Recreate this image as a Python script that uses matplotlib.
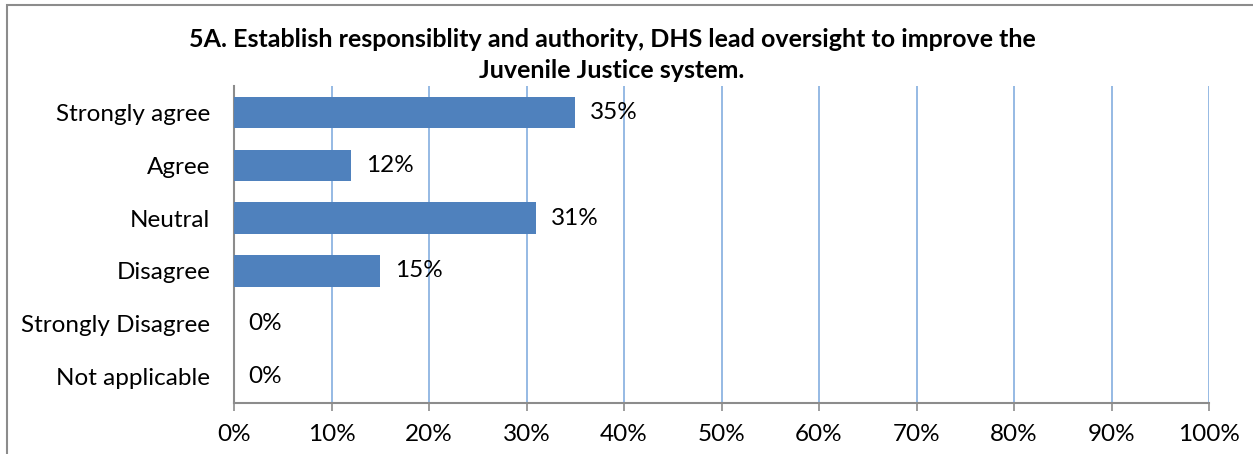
import matplotlib
matplotlib.use("Agg")
import matplotlib.pyplot as plt
from matplotlib.patches import Rectangle

categories = ["Strongly agree", "Agree", "Neutral", "Disagree",
              "Strongly Disagree", "Not applicable"]
values = [35, 12, 31, 15, 0, 0]
tick_values = [0, 10, 20, 30, 40, 50, 60, 70, 80, 90, 100]
tick_labels = [f"{v}%" for v in tick_values]
title = ("5A. Establish responsiblity and authority, DHS lead oversight to improve the\n"
         "Juvenile Justice system.")

plt.rcParams["font.family"] = ["Lato", "DejaVu Sans"]

W, H = 1253, 454
fig = plt.figure(figsize=(W / 100, H / 100), dpi=100)

# outer chart frame (cut off at right and bottom)
fig.patches.append(Rectangle((7 / W, -0.1), 1.2, (H - 5) / H + 0.1,
                             transform=fig.transFigure, fill=False,
                             edgecolor="#8c8c8c", linewidth=1.5))

left, right, top, bottom = 234, 1209, 86, 403
ax = fig.add_axes([left / W, 1 - bottom / H, (right - left) / W, (bottom - top) / H])

y = list(range(len(categories)))
ax.barh(y, values, height=0.59, color="#4F81BD", zorder=3)
ax.set_ylim(len(categories) - 0.5, -0.5)
ax.set_xlim(0, 100)

fs = 17.5
for yi, v in zip(y, values):
    ax.text(v + 1.5, yi, f"{v}%", va="center", ha="left", fontsize=fs,
            color="black", zorder=4)

ax.set_yticks(y)
ax.set_yticklabels(categories, fontsize=fs)
ax.set_xticks(tick_values)
ax.set_xticklabels(tick_labels, fontsize=fs)
ax.tick_params(axis="y", length=0, pad=17)
ax.tick_params(axis="x", length=6, width=1.2, color="#8c8c8c", pad=9)

ax.grid(axis="x", color="#8DB4E2", linewidth=1.3, zorder=0)
ax.set_axisbelow(True)
for s in ["top", "right"]:
    ax.spines[s].set_visible(False)
for s in ["left", "bottom"]:
    ax.spines[s].set_color("#8c8c8c")
    ax.spines[s].set_linewidth(1.5)

fig.text(612 / W, 1 - 55 / H, title, ha="center", va="center", fontsize=18,
         fontweight="bold", linespacing=1.42)

fig.savefig("out.png", dpi=100)
